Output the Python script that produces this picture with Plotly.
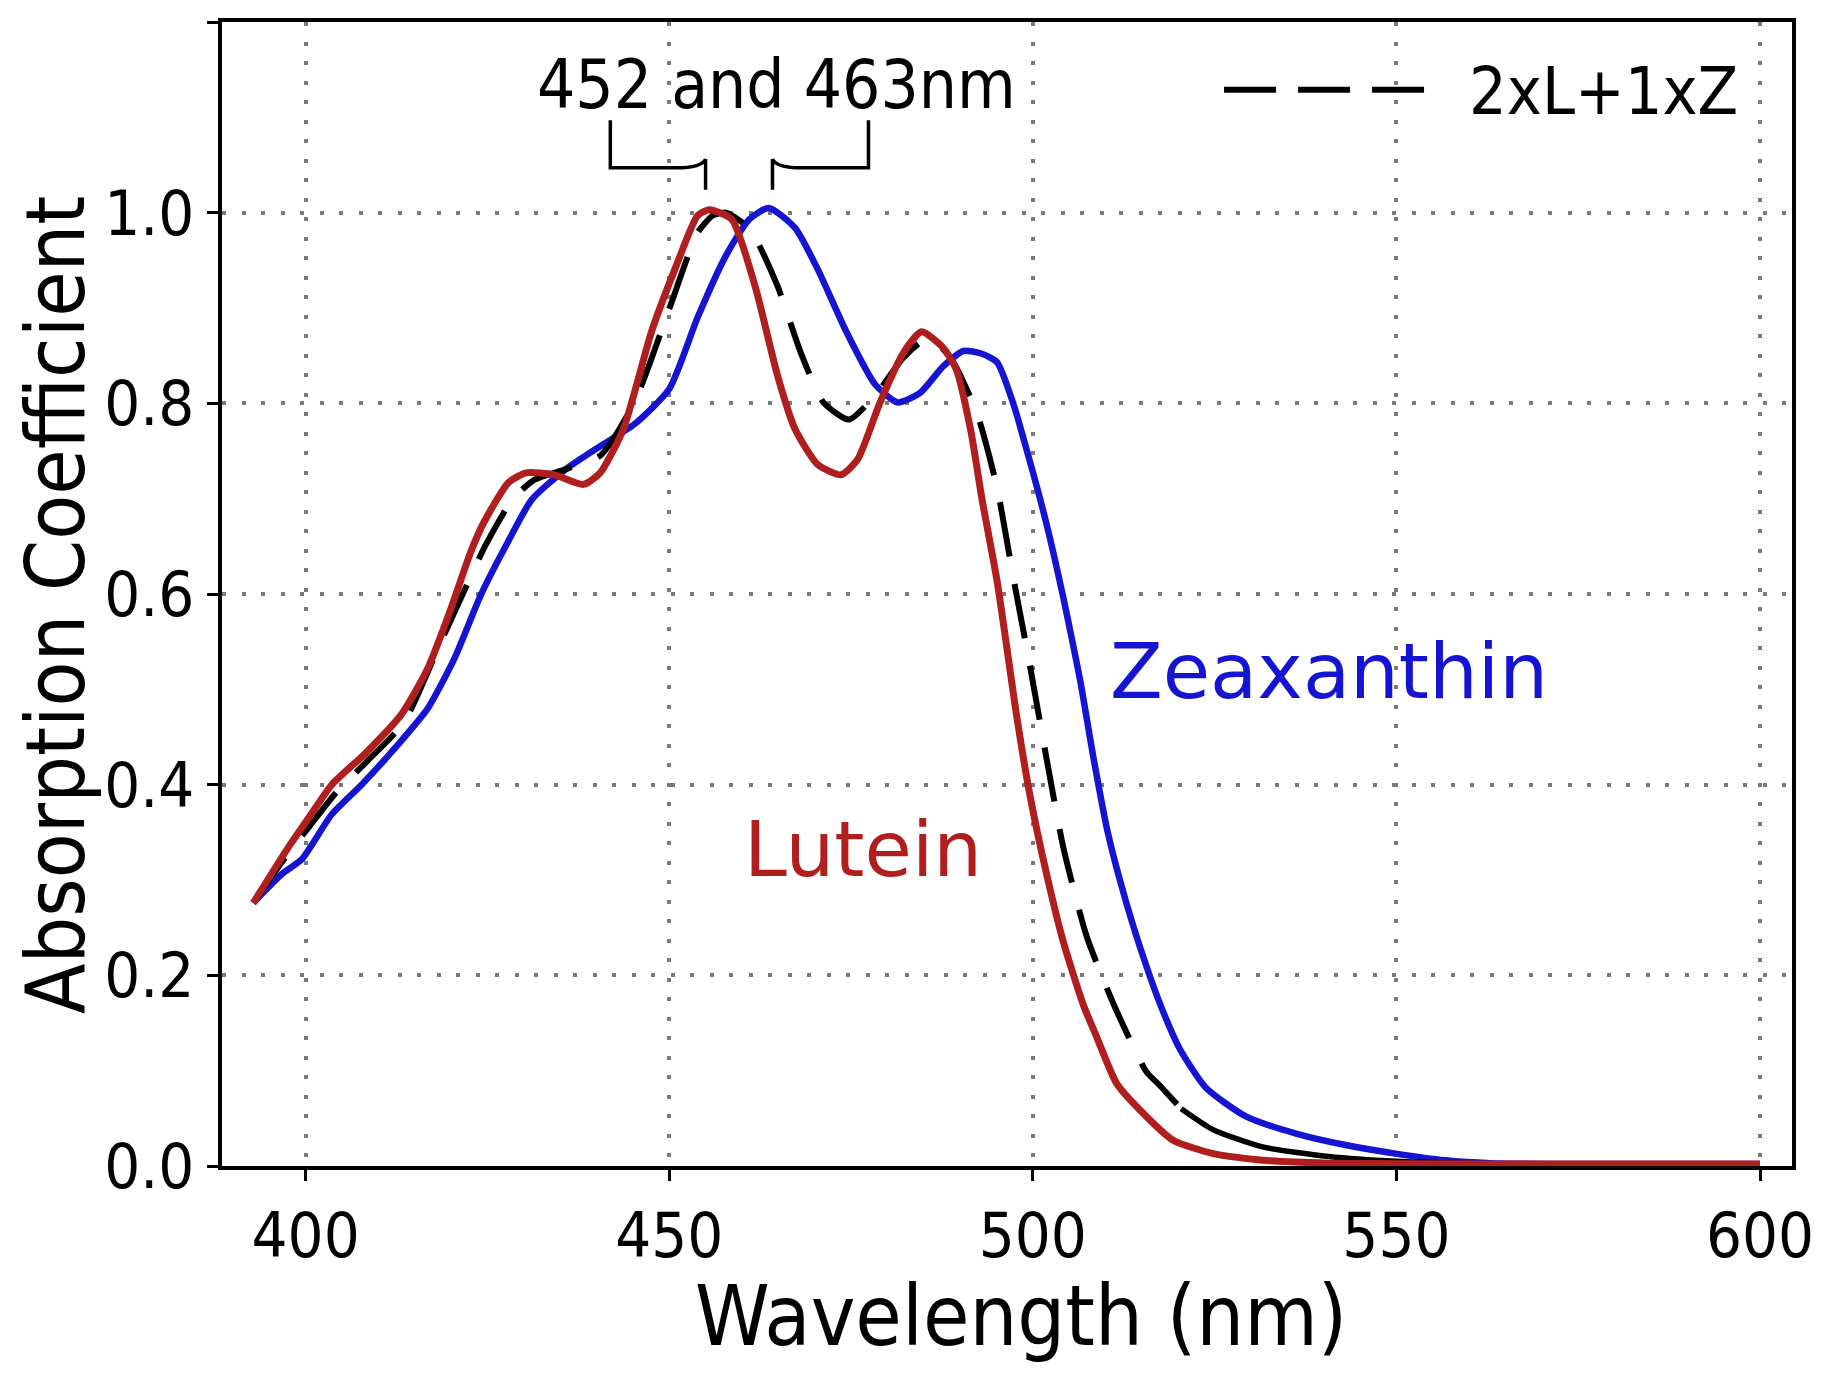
import plotly.graph_objects as go

# ---------------- data ----------------
lutein_x = [392.8, 397.6, 400.4, 403.6, 408.1, 413.2, 416.8, 420.0, 422.7, 424.5, 427.9,
            430.3, 434.2, 438.2, 440.5, 443.7, 447.6, 450.8, 453.9, 455.5, 458.6, 461.8,
            464.9, 467.3, 470.4, 473.6, 475.9, 479.0, 482.2, 484.7, 487.7, 489.5, 491.5,
            493.0, 495.1, 497.8, 499.6, 501.9, 504.2, 506.9, 508.8, 511.5, 514.7, 519.3,
            524.8, 531.6, 540.7, 560.0, 600.0]
lutein_y = [0.276, 0.334, 0.365, 0.400, 0.432, 0.474, 0.522, 0.585, 0.644, 0.675, 0.717,
            0.727, 0.725, 0.715, 0.727, 0.773, 0.876, 0.941, 0.997, 1.003, 0.993, 0.923,
            0.829, 0.773, 0.736, 0.725, 0.741, 0.801, 0.853, 0.875, 0.858, 0.835, 0.770,
            0.700, 0.613, 0.471, 0.389, 0.306, 0.235, 0.170, 0.135, 0.087, 0.059, 0.027,
            0.013, 0.006, 0.003, 0.002, 0.002]

zeax_x = [392.8, 396.7, 399.5, 403.6, 407.7, 412.7, 416.8, 420.5, 424.1, 427.5, 431.1,
          435.8, 440.5, 445.2, 450.0, 453.9, 457.8, 461.0, 463.7, 467.3, 470.4, 474.3,
          478.3, 481.4, 484.5, 487.7, 490.5, 493.0, 495.1, 497.3, 499.6, 501.9, 504.2,
          506.5, 508.3, 510.3, 512.9, 515.6, 517.6, 520.2, 523.8, 529.3, 536.2, 543.0,
          549.9, 556.7, 563.0, 580.0, 600.0]
zeax_y = [0.276, 0.306, 0.322, 0.369, 0.400, 0.442, 0.480, 0.533, 0.599, 0.650, 0.699,
          0.731, 0.755, 0.778, 0.815, 0.890, 0.955, 0.993, 1.005, 0.984, 0.941, 0.876,
          0.820, 0.801, 0.811, 0.839, 0.855, 0.852, 0.843, 0.800, 0.739, 0.673, 0.596,
          0.510, 0.430, 0.350, 0.275, 0.210, 0.168, 0.123, 0.082, 0.052, 0.034, 0.022,
          0.013, 0.006, 0.003, 0.002, 0.002]

mix_x = [392.8, 397.6, 400.4, 404.0, 408.5, 413.5, 418.2, 421.0, 424.8, 428.5, 431.5,
         435.8, 440.5, 445.2, 450.0, 453.9, 456.0, 457.8, 460.0, 461.8, 464.9, 468.1,
         471.2, 474.7, 478.3, 482.2, 485.3, 487.5, 489.3, 492.4, 495.1, 497.3, 499.6,
         501.9, 504.2, 507.4, 511.1, 515.6, 517.4, 520.4, 524.8, 531.6, 540.7, 550.0,
         565.0, 600.0]
mix_y = [0.276, 0.328, 0.355, 0.390, 0.425, 0.465, 0.543, 0.590, 0.652, 0.700, 0.720,
         0.731, 0.745, 0.801, 0.899, 0.979, 0.997, 1.000, 0.990, 0.974, 0.923, 0.853,
         0.801, 0.783, 0.808, 0.848, 0.867, 0.858, 0.840, 0.788, 0.711, 0.618, 0.525,
         0.427, 0.334, 0.241, 0.170, 0.099, 0.085, 0.060, 0.038, 0.020, 0.010, 0.005,
         0.002, 0.002]
mix_solid_from = 520.4   # in the reference the dashed curve merges into a solid tail here

x_ticks = [400, 450, 500, 550, 600]
y_ticks = [0.0, 0.2, 0.4, 0.6, 0.8, 1.0, 1.2]
y_ticktext = ["0.0", "0.2", "0.4", "0.6", "0.8", "1.0", ""]

# annotation geometry (data units)
peak_labels = "452 and 463nm"
bracket_left_tip = 455.0
bracket_right_tip = 464.2

RED = "#B01E1E"
BLUE = "#1414D2"
COND = "DejaVu Sans Condensed, Liberation Sans Narrow, DejaVu Sans, sans-serif"
WIDE = "DejaVu Sans, Verdana, sans-serif"
SPL = dict(shape="spline", smoothing=0.6)

fig = go.Figure()
fig.add_trace(go.Scatter(x=zeax_x, y=zeax_y, mode="lines", name="Zeaxanthin",
                         line=dict(color=BLUE, width=6.5, **SPL)))
dash_idx = [i for i, v in enumerate(mix_x) if v <= mix_solid_from]
tail_idx = [i for i, v in enumerate(mix_x) if v >= mix_solid_from]
fig.add_trace(go.Scatter(x=[mix_x[i] for i in dash_idx], y=[mix_y[i] for i in dash_idx],
                         mode="lines", name="2xL+1xZ",
                         line=dict(color="black", width=6, dash="55px,28px", **SPL)))
fig.add_trace(go.Scatter(x=[mix_x[i] for i in tail_idx], y=[mix_y[i] for i in tail_idx],
                         mode="lines", name="2xL+1xZ tail", showlegend=False,
                         line=dict(color="black", width=5.5, **SPL)))
fig.add_trace(go.Scatter(x=lutein_x, y=lutein_y, mode="lines", name="Lutein",
                         line=dict(color=RED, width=7, **SPL)))

# brackets over the peaks
lx, rx = bracket_left_tip, bracket_right_tip
left_path = (f"M 441.9,1.097 L 441.9,1.047 L {lx-4:.2f},1.047 "
             f"Q {lx-0.6:.2f},1.047 {lx:.2f},1.056 L {lx:.2f},1.024")
right_path = (f"M {rx:.2f},1.024 L {rx:.2f},1.056 Q {rx+0.6:.2f},1.047 {rx+4:.2f},1.047 "
              f"L 477.4,1.047 L 477.4,1.097")
for p in (left_path, right_path):
    fig.add_shape(type="path", path=p, xref="x", yref="y",
                  line=dict(color="black", width=3.5))

# legend sample line
fig.add_shape(type="line", xref="x", yref="y", x0=526.3, x1=553.8, y0=1.129, y1=1.129,
              line=dict(color="black", width=6, dash="52px,22px"))

annotations = [
    dict(xref="x", yref="y", x=464.8, y=1.134, text=peak_labels,
         font=dict(family=COND, size=67, color="black")),
    dict(xref="x", yref="y", x=578.5, y=1.127, text="2xL+1xZ",
         font=dict(family=COND, size=66, color="black")),
    dict(xref="x", yref="y", x=540.7, y=0.519, text="Zeaxanthin",
         font=dict(family=WIDE, size=77, color=BLUE)),
    dict(xref="x", yref="y", x=476.7, y=0.332, text="Lutein",
         font=dict(family=WIDE, size=77, color=RED)),
    # axis titles, placed as in the reference
    dict(xref="paper", yref="paper", x=0.509, y=-0.131, text="Wavelength (nm)",
         font=dict(family=COND, size=84, color="black")),
    dict(xref="paper", yref="paper", x=-0.106, y=0.490, text="Absorption Coefficient",
         textangle=-90, font=dict(family=COND, size=82, color="black")),
]
for a in annotations:
    fig.add_annotation(showarrow=False, xanchor="center", yanchor="middle", **a)

axis_common = dict(
    showgrid=True, gridcolor="#7a7a7a", gridwidth=3.5, griddash="4px,15.5px",
    showline=True, linecolor="black", linewidth=4, mirror=True,
    ticks="outside", ticklen=11, tickwidth=3, tickcolor="black",
    zeroline=False,
    tickfont=dict(family=COND, size=63, color="black"),
)

fig.update_layout(
    width=1816, height=1367,
    margin=dict(l=214, r=24, t=10, b=209),
    paper_bgcolor="white", plot_bgcolor="white",
    showlegend=False,
    xaxis=dict(range=[388.5, 604.4], tickvals=x_ticks, **axis_common),
    yaxis=dict(range=[0, 1.2], tickvals=y_ticks, ticktext=y_ticktext, **axis_common),
)

fig.write_html("out.html")
